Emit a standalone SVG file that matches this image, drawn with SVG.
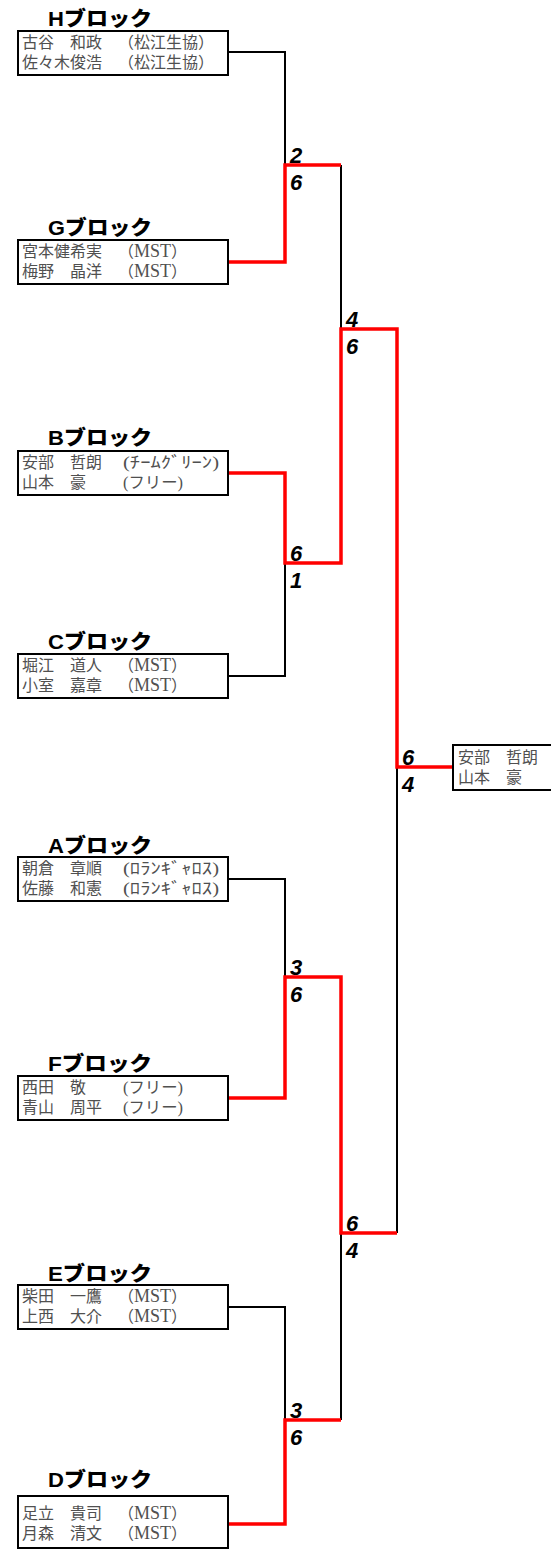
<svg xmlns="http://www.w3.org/2000/svg" width="551" height="1549" viewBox="0 0 551 1549">
<style>
.box{fill:#fff;stroke:#000;stroke-width:2}
.nm{font-family:"Liberation Serif","Noto Sans CJK JP",sans-serif;font-size:16px;fill:#505050}
.lbl{font-family:"Liberation Sans","Noto Sans CJK JP",sans-serif;font-size:20px;font-weight:900;fill:#000}
.sc{font-family:"Liberation Sans",sans-serif;font-size:22px;font-weight:bold;font-style:italic;fill:#000}
.blk{fill:none;stroke:#000;stroke-width:2}
.red{fill:none;stroke:#ff0000;stroke-width:3.5}
.m{font-size:18px}
</style>
<rect width="551" height="1549" fill="#fff"/>
<g id="connectors">
<path class="blk" d="M228,52H285V165"/>
<path class="blk" d="M228,676H285V563"/>
<path class="blk" d="M341,165V329"/>
<path class="blk" d="M228,879H285V977"/>
<path class="blk" d="M228,1307H285V1420"/>
<path class="blk" d="M341,1420V1233"/>
<path class="blk" d="M397,1233V767"/>
<path class="red" d="M228,262H285V165H341"/>
<path class="red" d="M228,473H285V563H341V329H397V767H453"/>
<path class="red" d="M228,1098H285V977H341V1233H397"/>
<path class="red" d="M228,1524H285V1420H341"/>
</g>
<g id="scores">
<text class="sc" x="290" y="163">2</text><text class="sc" x="290" y="190">6</text>
<text class="sc" x="346" y="327">4</text><text class="sc" x="346" y="354">6</text>
<text class="sc" x="290" y="561">6</text><text class="sc" x="290" y="588">1</text>
<text class="sc" x="402" y="765">6</text><text class="sc" x="402" y="792">4</text>
<text class="sc" x="290" y="975">3</text><text class="sc" x="290" y="1002">6</text>
<text class="sc" x="346" y="1231">6</text><text class="sc" x="346" y="1258">4</text>
<text class="sc" x="290" y="1418">3</text><text class="sc" x="290" y="1445">6</text>
</g>
<g id="blockH">
<text class="lbl" x="48" y="26" textLength="104" lengthAdjust="spacingAndGlyphs">Hブロック</text>
<rect class="box" x="18" y="31" width="210" height="44"/>
<text class="nm" x="22" y="48">古谷　和政</text><text class="nm" x="118" y="48">（松江生協）</text>
<text class="nm" x="22" y="68">佐々木俊浩</text><text class="nm" x="118" y="68">（松江生協）</text>
</g>
<g id="blockG">
<text class="lbl" x="48" y="235" textLength="104" lengthAdjust="spacingAndGlyphs">Gブロック</text>
<rect class="box" x="18" y="240" width="210" height="44"/>
<text class="nm" x="22" y="257">宮本健希実</text><text class="nm" x="118" y="257">（<tspan class="m">MST</tspan>）</text>
<text class="nm" x="22" y="277">梅野　晶洋</text><text class="nm" x="118" y="277">（<tspan class="m">MST</tspan>）</text>
</g>
<g id="blockB">
<text class="lbl" x="48" y="445" textLength="104" lengthAdjust="spacingAndGlyphs">Bブロック</text>
<rect class="box" x="18" y="451" width="210" height="44"/>
<text class="nm" x="22" y="468">安部　哲朗</text><text class="nm" x="123" y="468" textLength="96" lengthAdjust="spacingAndGlyphs">(ﾁｰﾑｸﾞﾘｰﾝ)</text>
<text class="nm" x="22" y="488">山本　豪</text><text class="nm" x="123" y="488" textLength="60" lengthAdjust="spacingAndGlyphs">(フリー)</text>
</g>
<g id="blockC">
<text class="lbl" x="48" y="649" textLength="104" lengthAdjust="spacingAndGlyphs">Cブロック</text>
<rect class="box" x="18" y="654" width="210" height="44"/>
<text class="nm" x="22" y="671">堀江　道人</text><text class="nm" x="118" y="671">（<tspan class="m">MST</tspan>）</text>
<text class="nm" x="22" y="691">小室　嘉章</text><text class="nm" x="118" y="691">（<tspan class="m">MST</tspan>）</text>
</g>
<g id="blockA">
<text class="lbl" x="48" y="853" textLength="104" lengthAdjust="spacingAndGlyphs">Aブロック</text>
<rect class="box" x="18" y="857" width="210" height="44"/>
<text class="nm" x="22" y="874">朝倉　章順</text><text class="nm" x="123" y="874" textLength="96" lengthAdjust="spacingAndGlyphs">(ﾛﾗﾝｷﾞｬﾛｽ)</text>
<text class="nm" x="22" y="894">佐藤　和憲</text><text class="nm" x="123" y="894" textLength="96" lengthAdjust="spacingAndGlyphs">(ﾛﾗﾝｷﾞｬﾛｽ)</text>
</g>
<g id="blockF">
<text class="lbl" x="48" y="1071" textLength="104" lengthAdjust="spacingAndGlyphs">Fブロック</text>
<rect class="box" x="18" y="1076" width="210" height="44"/>
<text class="nm" x="22" y="1093">西田　敬</text><text class="nm" x="123" y="1093" textLength="60" lengthAdjust="spacingAndGlyphs">(フリー)</text>
<text class="nm" x="22" y="1113">青山　周平</text><text class="nm" x="123" y="1113" textLength="60" lengthAdjust="spacingAndGlyphs">(フリー)</text>
</g>
<g id="blockE">
<text class="lbl" x="48" y="1281" textLength="104" lengthAdjust="spacingAndGlyphs">Eブロック</text>
<rect class="box" x="18" y="1285" width="210" height="44"/>
<text class="nm" x="22" y="1302">柴田　一鷹</text><text class="nm" x="118" y="1302">（<tspan class="m">MST</tspan>）</text>
<text class="nm" x="22" y="1322">上西　大介</text><text class="nm" x="118" y="1322">（<tspan class="m">MST</tspan>）</text>
</g>
<g id="blockD">
<text class="lbl" x="48" y="1487" textLength="104" lengthAdjust="spacingAndGlyphs">Dブロック</text>
<rect class="box" x="18" y="1496" width="210" height="52"/>
<text class="nm" x="22" y="1519">足立　貴司</text><text class="nm" x="118" y="1519">（<tspan class="m">MST</tspan>）</text>
<text class="nm" x="22" y="1539">月森　清文</text><text class="nm" x="118" y="1539">（<tspan class="m">MST</tspan>）</text>
</g>
<g id="winner">
<rect class="box" x="453" y="745" width="110" height="45"/>
<text class="nm" x="458" y="763">安部　哲朗</text>
<text class="nm" x="458" y="783">山本　豪</text>
</g>
</svg>
